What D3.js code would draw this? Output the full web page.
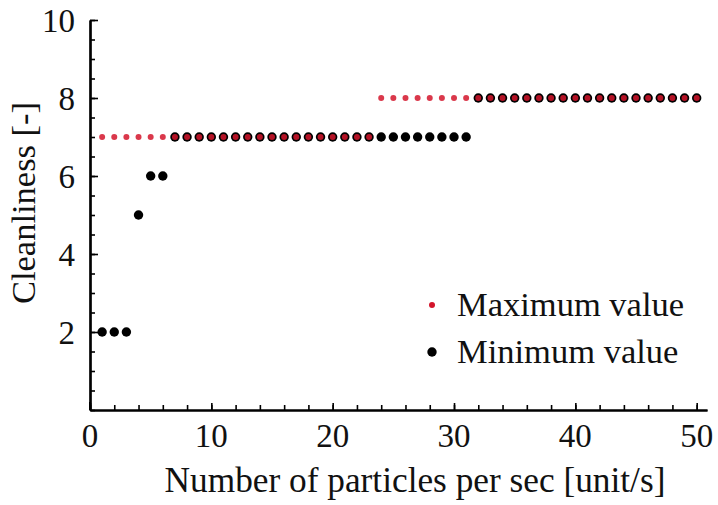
<!DOCTYPE html>
<html>
<head>
<meta charset="utf-8">
<script src="https://cdn.jsdelivr.net/npm/d3@7"></script>
<style>
  html, body { margin: 0; padding: 0; background: #fff; }
  svg { display: block; }
  text { font-family: "Liberation Serif", "Times New Roman", serif; fill: #111; }
</style>
</head>
<body>
<svg id="chart" width="718" height="505"></svg>
<script>
// ---- data ----
const xMax = [1,2,3,4,5,6,7,8,9,10,11,12,13,14,15,16,17,18,19,20,21,22,23,24,25,26,27,28,29,30,31,32,33,34,35,36,37,38,39,40,41,42,43,44,45,46,47,48,49,50];
const maxValues = [7,7,7,7,7,7,7,7,7,7,7,7,7,7,7,7,7,7,7,7,7,7,7,8,8,8,8,8,8,8,8,8,8,8,8,8,8,8,8,8,8,8,8,8,8,8,8,8,8,8];
const xMin = [1,2,3,4,5,6,7,8,9,10,11,12,13,14,15,16,17,18,19,20,21,22,23,24,25,26,27,28,29,30,31,32,33,34,35,36,37,38,39,40,41,42,43,44,45,46,47,48,49,50];
const minValues = [2,2,2,5,6,6,7,7,7,7,7,7,7,7,7,7,7,7,7,7,7,7,7,7,7,7,7,7,7,7,7,8,8,8,8,8,8,8,8,8,8,8,8,8,8,8,8,8,8,8];
const xTickLabels = [0,10,20,30,40,50];
const yTickLabels = [2,4,6,8,10];
const seriesNames = ["Maximum value", "Minimum value"];
const xTitle = "Number of particles per sec [unit/s]";
const yTitle = "Cleanliness [-]";

// ---- layout ----
const svg = d3.select("#chart");
const pLeft = 90, pRight = 707, pTop = 20, pBottom = 410;
const x = d3.scaleLinear().domain([0, 50.85]).range([pLeft, pRight]);
const y = d3.scaleLinear().domain([0, 10]).range([pBottom, pTop]);

const red = "#d3152b", black = "#000";

// minor ticks
const xMinor = d3.range(0, 51, 2);
const yMinor = d3.range(0, 10.01, 0.5);

// X axis (ticks inward = upward)
const gx = svg.append("g").attr("transform", `translate(0,${pBottom})`);
gx.call(d3.axisTop(x).tickValues(xMinor).tickSize(5).tickSizeOuter(0).tickFormat(""));
gx.append("g").call(d3.axisTop(x).tickValues(xTickLabels).tickSize(7).tickSizeOuter(0).tickFormat(""));
gx.selectAll("path.domain").attr("stroke", "#000").attr("stroke-width", 2.2);
gx.selectAll(".tick line").attr("stroke", "#000").attr("stroke-width", 1.6);
gx.append("line").attr("x1", x(0)).attr("x2", x(0)).attr("y1", 0).attr("y2", -8).attr("stroke", "#000").attr("stroke-width", 2);
gx.selectAll("text.lab").data(xTickLabels).enter().append("text")
  .attr("class", "lab")
  .attr("x", d => x(d)).attr("y", 37)
  .attr("text-anchor", "middle").attr("font-size", 33).text(d => d);

// Y axis (ticks inward = rightward)
const gy = svg.append("g").attr("transform", `translate(${pLeft},0)`);
gy.call(d3.axisRight(y).tickValues(yMinor).tickSize(5).tickSizeOuter(0).tickFormat(""));
gy.append("g").call(d3.axisRight(y).tickValues(yTickLabels).tickSize(8).tickSizeOuter(0).tickFormat(""));
gy.selectAll("path.domain").attr("stroke", "#000").attr("stroke-width", 2.2);
gy.selectAll(".tick line").attr("stroke", "#000").attr("stroke-width", 1.6);
gy.selectAll("text.lab").data(yTickLabels).enter().append("text")
  .attr("class", "lab")
  .attr("x", -15).attr("y", d => y(d)).attr("dy", "0.35em")
  .attr("text-anchor", "end").attr("font-size", 33).text(d => d);

// titles
svg.append("text").attr("x", 415).attr("y", 492).attr("text-anchor", "middle")
  .attr("font-size", 35.3).text(xTitle);
svg.append("text").attr("transform", `translate(35,203) rotate(-90)`).attr("text-anchor", "middle")
  .attr("font-size", 34.5).text(yTitle);

// points
const minData = xMin.map((d, i) => ({x: d, y: minValues[i]}));
const maxData = xMax.map((d, i) => ({x: d, y: maxValues[i]}));
svg.append("g").selectAll("circle").data(minData).enter().append("circle")
  .attr("cx", d => x(d.x)).attr("cy", d => y(d.y)).attr("r", 4.7).attr("fill", black);
svg.append("g").selectAll("circle").data(maxData).enter().append("circle")
  .attr("cx", d => x(d.x)).attr("cy", d => y(d.y)).attr("r", 3.0).attr("fill", red).attr("fill-opacity", 0.85);

// legend
const legend = svg.append("g");
const legY = [305, 352];
legend.append("circle").attr("cx", 432).attr("cy", legY[0]).attr("r", 3.0).attr("fill", red);
legend.append("circle").attr("cx", 432).attr("cy", legY[1]).attr("r", 4.7).attr("fill", black);
seriesNames.forEach((name, i) => {
  legend.append("text").attr("x", 457).attr("y", legY[i] + 11).attr("font-size", 34.5).text(name);
});
</script>
</body>
</html>
